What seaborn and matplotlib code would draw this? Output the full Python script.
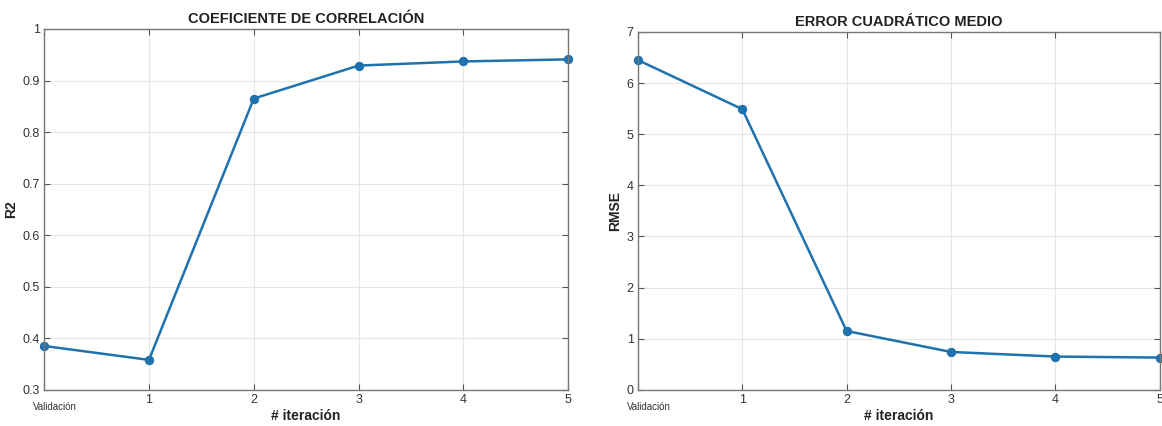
import pandas as pd
import seaborn as sns
import matplotlib.pyplot as plt

# iterations (0 = validation)
iteraciones = [0, 1, 2, 3, 4, 5]
tick_labels = ['Validación', '1', '2', '3', '4', '5']
r2_values = [0.385, 0.358, 0.865, 0.929, 0.937, 0.941]
rmse_values = [6.45, 5.49, 1.15, 0.74, 0.65, 0.63]

sns.set_style('ticks')
plt.rcParams['font.family'] = ['Liberation Sans', 'DejaVu Sans']

line_color = '#1f72ad'
df = pd.DataFrame({'iter': iteraciones, 'R2': r2_values, 'RMSE': rmse_values})

fig = plt.figure(figsize=(11.62, 4.26), dpi=100)
ax1 = fig.add_axes([0.038, 0.085, 0.451, 0.847])
ax2 = fig.add_axes([0.549, 0.085, 0.449, 0.840])


def style_axis(ax, ylim, yticks, ylabel, title):
    ax.set_xlim(0, 5)
    ax.set_ylim(*ylim)
    ax.set_yticks(yticks)
    ax.set_xticks(iteraciones)
    # first tick label is drawn separately (smaller and lower, like the original)
    ax.set_xticklabels([''] + tick_labels[1:])
    ax.annotate(tick_labels[0], xy=(0, 0), xycoords=('data', 'axes fraction'),
                xytext=(11, -17), textcoords='offset pixels', ha='center', va='center',
                fontsize=7, color='#333333')
    ax.tick_params(direction='in', length=4, color='#555555', labelcolor='#333333',
                   labelsize=9, top=True, right=True)
    ax.tick_params(axis='x', pad=3)
    ax.tick_params(axis='y', pad=3)
    ax.grid(True, color='#e6e6e6', linewidth=0.8)
    for s in ax.spines.values():
        s.set_color('#777777')
        s.set_linewidth(1.0)
        s.set_visible(True)
    ax.set_xlabel('# iteración', fontsize=10, fontweight='bold', color='#222222', labelpad=2)
    ax.set_ylabel(ylabel, fontsize=10, fontweight='bold', color='#222222', labelpad=3)
    ax.set_title(title, fontsize=10.5, fontweight='bold', color='#222222', pad=4)


sns.lineplot(data=df, x='iter', y='R2', ax=ax1, color=line_color, marker='o',
             markersize=6, linewidth=1.8, markeredgecolor=line_color, clip_on=False)
style_axis(ax1, (0.3, 1.0), [0.3, 0.4, 0.5, 0.6, 0.7, 0.8, 0.9, 1.0], 'R2',
           'COEFICIENTE DE CORRELACIÓN')
ax1.set_yticklabels(['0.3', '0.4', '0.5', '0.6', '0.7', '0.8', '0.9', '1'])

sns.lineplot(data=df, x='iter', y='RMSE', ax=ax2, color=line_color, marker='o',
             markersize=6, linewidth=1.8, markeredgecolor=line_color, clip_on=False)
style_axis(ax2, (0, 7), [0, 1, 2, 3, 4, 5, 6, 7], 'RMSE', 'ERROR CUADRÁTICO MEDIO')

fig.savefig('out.png', dpi=100)
